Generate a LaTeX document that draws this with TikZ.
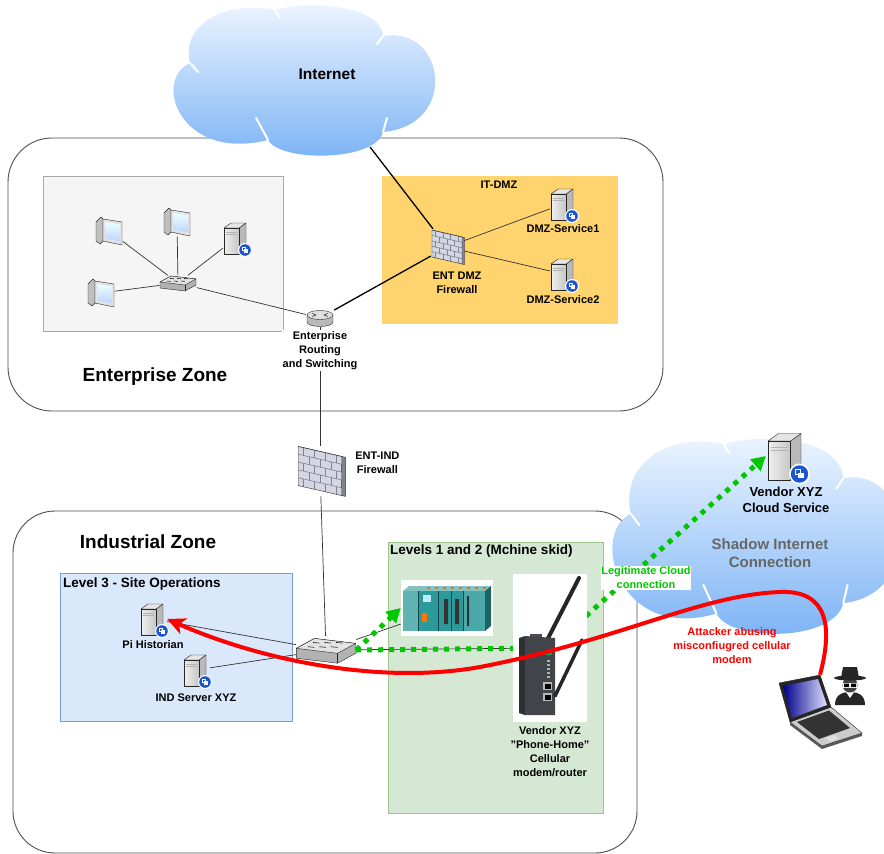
\documentclass[tikz,border=0pt]{standalone}
\usepackage{fontspec}
\setmainfont{Liberation Sans}
\usepackage{tikz}
\usetikzlibrary{positioning,arrows.meta}
\definecolor{zoneline}{HTML}{4F4F4F}
\definecolor{cloudhi}{HTML}{EEF6FF}
\definecolor{cloudlo}{HTML}{7AB2F5}
\definecolor{lanfill}{HTML}{F5F5F5}
\definecolor{lanline}{HTML}{A8A8A8}
\definecolor{dmzfill}{HTML}{FFD46E}
\definecolor{lvlthree}{HTML}{DAE8FC}
\definecolor{lvlthreeline}{HTML}{7C9CCD}
\definecolor{lvltwo}{HTML}{D5E8D4}
\definecolor{lvltwoline}{HTML}{9CC78D}
\definecolor{legitgreen}{HTML}{00C800}
\definecolor{attackred}{HTML}{FF0000}
\definecolor{badgeblue}{HTML}{1C55D2}
\definecolor{brickface}{HTML}{D4D7E3}
\definecolor{brickline}{HTML}{7E8291}
\definecolor{plcteal}{HTML}{2C9A9B}
\definecolor{modemgray}{HTML}{41454A}

% cloud outline on the unit square (y grows downwards)
\newcommand{\cloudoutline}{(0.057,0.387) .. controls (0.019,0.113) and (0.208,-0.033) .. (0.377,0.033)
  .. controls (0.472,-0.02) and (0.774,-0.02) .. (0.785,0.207)
  .. controls (1.019,0.133) and (1.075,0.8) .. (0.785,0.847)
  .. controls (0.755,1.047) and (0.396,1.047) .. (0.351,0.9)
  .. controls (0.019,1.047) and (-0.087,0.5) .. (0.057,0.387) -- cycle}
% \netcloud{left}{top}{width}{height}
\newcommand{\netcloud}[4]{%
  \begin{scope}[shift={(#1,#2)}, x=#3pt, y=-#4pt]
    \shade[top color=cloudhi, bottom color=cloudlo] \cloudoutline;
    \foreach \ax/\ay/\bx/\by in {0.057/0.387/0.087/0.447, 0.377/0.033/0.394/0.08,
        0.785/0.207/0.762/0.26, 0.785/0.847/0.8/0.753, 0.351/0.9/0.306/0.753}
      \draw[white, line width=2pt, line cap=round] (\ax,\ay) -- (\bx,\by);
  \end{scope}}

\begin{document}
\begin{tikzpicture}[x=1pt, y=-1pt,
    lbl/.style={font=\bfseries\fontsize{11}{14}\selectfont, align=center, inner sep=1pt},
    ztitle/.style={font=\bfseries\fontsize{19}{23}\selectfont, inner sep=1pt},
    btitle/.style={font=\bfseries\fontsize{13.5}{16}\selectfont, anchor=west, inner sep=1pt},
    zone/.style={draw=zoneline, line width=0.9pt, rounded corners=44pt},
    dev/.style 2 args={inner sep=0pt, minimum width=#1, minimum height=#2},
    link/.style={draw=black!80, line width=0.7pt},
    uplink/.style={draw=black, line width=1.3pt},
    legit/.style={draw=legitgreen, line width=5pt, dash pattern=on 5pt off 6pt},
    attack/.style={draw=attackred, line width=4pt},
    outl/.style={draw=gray!30!black, line width=0.4pt, line join=round},
    pc/.pic={
      \fill[gray!50, outl] (-13,-9) -- (-8,-14) -- (-6,-12) -- (-6,10) -- (-9,13) -- (-13,10) -- cycle;
      \fill[gray!22, outl] (-6,-12) -- (13,-9) -- (13,14) -- (-6,10) -- cycle;
      \shade[top color=cyan!8!white, bottom color=cyan!30!blue!25] (-4,-9) -- (11,-6.5) -- (11,10.5) -- (-4,7.5) -- cycle;
    },
    server/.pic={
      \fill[gray!55, outl] (3,-10) -- (10,-15) -- (10,12) -- (3,16) -- cycle;
      \fill[gray!20, outl] (-12,-10) -- (-5,-15) -- (10,-15) -- (3,-10) -- cycle;
      \shade[left color=gray!12, right color=gray!45] (-12,-10) rectangle (3,16);
      \draw[outl] (-12,-10) rectangle (3,16);
      \draw[gray!60, line width=0.6pt] (-10,-6) -- (1,-6) (-10,-3.5) -- (1,-3.5);
      \fill[white] (9,12) circle (7);
      \fill[badgeblue] (9,12) circle (5.8);
      \draw[white, line width=0.7pt] (5.9,9.2) rectangle (9.4,12.2);
      \fill[white] (8,11) rectangle (12,14.6);
    },
    switch/.pic={
      \fill[gray!60, outl] (-18,-1) -- (-7,-7) -- (18,-4) -- (18,2) -- (7,8) -- (-18,5) -- cycle;
      \fill[gray!22, outl] (-18,-1) -- (-7,-7) -- (18,-4) -- (7,2) -- cycle;
      \draw[outl] (7,2) -- (7,8);
      \foreach \sx in {-8,-1,6}
        \draw[gray!25!black, line width=0.6pt] (\sx-3,-2) -- (\sx+1,-1.6) (\sx,-4.6) -- (\sx+4,-4.2);
    },
    router/.pic={
      \fill[gray!55] (-13,-3) rectangle (13,4);
      \fill[gray!55] (0,4) ellipse [x radius=13, y radius=4.5];
      \draw[outl] (-13,-3) -- (-13,4) arc[start angle=180, end angle=0, x radius=13, y radius=4.5] -- (13,-3);
      \fill[gray!25, outl] (0,-3) ellipse [x radius=13, y radius=4.5];
      \draw[gray!20!black, line width=0.5pt] (-8,-4.5) -- (-4,-3) -- (-8,-1.5) (8,-4.5) -- (4,-3) -- (8,-1.5);
    },
    firewall/.pic={
      \begin{scope}[yslant=-0.23]
        \fill[brickline] (15,-13.5) rectangle (17.5,13.5);
        \fill[brickface] (-15,-13.5) rectangle (15,13.5);
        \foreach \row/\off in {0/0,1/3.75,2/0,3/3.75,4/0} {
          \draw[brickline, line width=0.6pt] (-15,{-13.5+5.4*\row}) -- (15,{-13.5+5.4*\row});
          \foreach \col in {0,...,3}
            \draw[brickline, line width=0.6pt] ({-11.25+\off+7.5*\col},{-13.5+5.4*\row}) -- ++(0,5.4);
        }
        \draw[outl] (-15,-13.5) rectangle (15,13.5);
        \draw[outl] (15,-13.5) -- (17.5,-13.5) -- (17.5,13.5) -- (15,13.5);
      \end{scope}
    },
    plc/.pic={
      \fill[white] (-46,-28) rectangle (46,28);
      \fill[plcteal!60!white] (-44,-17) -- (-38,-22) -- (44,-22) -- (38,-17) -- cycle;
      \fill[plcteal!65!black] (38,-17) -- (44,-22) -- (44,18) -- (38,23) -- cycle;
      \fill[plcteal] (-44,-17) rectangle (38,23);
      \fill[plcteal!75!white] (-44,-17) rectangle (-29,23);
      \fill[plcteal!85!white] (16,-17) rectangle (38,23);
      \foreach \mx in {-29,-9,4,16}
        \draw[plcteal!45!black, line width=0.5pt] (\mx,-17) -- (\mx,23);
      \fill[black!80] (-3,-9) rectangle (1,16) (8,-9) rectangle (12,16) (20,-12) rectangle (22,18);
      \fill[orange!90!red] (-25,5) rectangle (-20,14);
      \fill[cyan!25] (-24,-13) rectangle (-16,-6);
      \foreach \ox in {-20,-12,...,36}
        \fill[orange!85!red] (\ox,-21.5) rectangle ++(3,2);
    },
    modem/.pic={
      \fill[white] (-37,-74) rectangle (37,74);
      \draw[black!85, line width=4pt, line cap=round] (-8,2) -- (29,-70);
      \fill[modemgray!70!black] (-31,-10) -- (-25,-12) -- (-25,67) -- (-31,65) -- cycle;
      \fill[modemgray] (-25,-12) -- (5,-10) -- (5,67) -- (-25,67) -- cycle;
      \fill[black!70] (-20,-14) rectangle (-8,-11);
      \fill[teal!70!green] (-5,2) rectangle (2,7);
      \foreach \ly in {12,16,...,28} \fill[gray!60] (-3,\ly) rectangle ++(3,1.5);
      \foreach \py in {34,45} {
        \fill[gray!55] (-7,\py) rectangle ++(9,8);
        \fill[black] (-5.5,\py+1.5) rectangle ++(6,5);
      }
      \draw[black!85, line width=3.5pt, line cap=round] (5,48) -- (32,-8);
    },
    laptop/.pic={
      \fill[gray!70!black] (-30,12) -- (2,36) -- (42,23) -- (42,26) -- (2,39) -- (-30,15) -- cycle;
      \fill[gray!40, outl] (-30,12) -- (11,-3) -- (42,23) -- (2,36) -- cycle;
      \fill[black!80] (-23,12) -- (9,0.5) -- (30,18) -- (-1,29) -- cycle;
      \fill[gray!25] (6,28) -- (14,25) -- (18,28.5) -- (10,31.5) -- cycle;
      \fill[black!85, outl] (-41,-27) -- (0,-35) -- (11,-3) -- (-30,12) -- cycle;
      \shade[left color=blue!55!black, right color=blue!12!white] (-37,-24) -- (-2,-31) -- (7,-5) -- (-28,8) -- cycle;
    },
    spy/.pic={
      \fill[black!85] (-15,19) .. controls (-15,9) and (-8,6) .. (0,6) .. controls (8,6) and (15,9) .. (15,19) -- cycle;
      \fill[white] (-4,6) -- (0,12) -- (4,6) -- cycle;
      \fill[black!75] (0,-1) circle (7.5);
      \fill[white] (-7,-3) rectangle (7,1.5);
      \fill[black] (-6,-2.5) rectangle (-1,1) (1,-2.5) rectangle (6,1);
      \fill[black!85] (-9,-8) -- (-7,-19) -- (7,-19) -- (9,-8) -- cycle;
      \fill[black!85] (0,-8) ellipse [x radius=16, y radius=2.5];
    }]

  \useasboundingbox (0,0) rectangle (884,854);
  \fill[white] (0,0) rectangle (884,854);

  % ---- zones and groups
  \draw[zone] (8,138) rectangle (663,411);
  \draw[zone, rounded corners=42pt] (13,511) rectangle (637,853);
  \draw[draw=lanline, fill=lanfill, line width=0.8pt] (43,176) rectangle (283,331);
  \fill[dmzfill] (382,176) rectangle (618,324);
  \draw[draw=lvlthreeline, fill=lvlthree] (60,573) rectangle (292,721);
  \draw[draw=lvltwoline, fill=lvltwo] (388,542) rectangle (603,813);

  % ---- clouds
  \netcloud{175}{5}{265}{150}
  \netcloud{614}{438}{292}{195}

  % ---- device boxes
  \node[font=\bfseries\fontsize{15.5}{18}\selectfont] (inet) at (327,74) {Internet};
  \coordinate (inetlink) at (370,147);
  \foreach \n/\x/\y in {pc1/109/231, pc2/177/222, pc3/101/293}
    \node[dev={27}{29}] (\n) at (\x,\y) {};
  \node[dev={26}{33}] (esrv) at (236,238) {};
  \node[dev={37}{15}] (esw) at (178,283) {};
  \node[dev={28}{18}] (rtr) at (320,318) {};
  \node[dev={32}{36}] (fw1) at (447,247) {};
  \node[dev={26}{32}] (dmz1) at (563,204) {};
  \node[dev={26}{32}] (dmz2) at (563,274) {};
  \node[dev={46}{50}] (fw2) at (320,471) {};
  \node[dev={60}{28}] (isw) at (326,650) {};
  \node[dev={28}{34}] (pihist) at (153,619) {};
  \node[dev={28}{34}] (indsrv) at (196,670) {};
  \node[dev={92}{56}] (plc) at (447,608) {};
  \node[dev={74}{148}] (modem) at (550,648) {};
  \node[dev={40}{56}] (vendor) at (786,456) {};
  \node[dev={84}{70}] (laptop) at (820,710) {};
  \node[dev={34}{38}] (spy) at (850,686) {};

  % ---- links
  \foreach \n in {pc1,pc2,pc3,esrv} \draw[link] (esw) -- (\n);
  \draw[link] (esw) -- (rtr);
  \draw[uplink] (rtr) -- (fw1);
  \draw[uplink] (inetlink) -- (fw1);
  \draw[link] (fw1) -- (dmz1);
  \draw[link] (fw1) -- (dmz2);
  \draw[link] (rtr) -- (fw2);
  \draw[link] (fw2) -- (isw);
  \foreach \n in {pihist,indsrv,plc,modem} \draw[link] (isw) -- (\n);

  % ---- vendor traffic
  \draw[legit, -{Triangle[length=14pt, width=15pt]}] (isw.east) -- (plc.west);
  \draw[legit, -{Triangle[length=14pt, width=15pt]}] (isw.east) -- (modem.center) -- (vendor.west);

  % ---- icons
  \foreach \n in {pc1,pc2,pc3} \pic at (\n) {pc};
  \foreach \n in {esrv,dmz1,dmz2,pihist,indsrv} \pic at (\n) {server};
  \pic[scale=1.5] at (vendor) {server};
  \pic at (esw) {switch};
  \pic[scale=1.65] at (isw) {switch};
  \pic at (rtr) {router};
  \pic at (fw1) {firewall};
  \pic[scale=1.45] at (fw2) {firewall};
  \pic at (plc) {plc};
  \pic at (modem) {modem};
  \pic at (laptop) {laptop};
  \pic at (spy) {spy};

  % ---- labels
  \node[ztitle] (entzone) at (155,377) {Enterprise Zone};
  \node[ztitle] (indzone) at (148,542) {Industrial Zone};
  \node[btitle] (l3lbl) at (62,584) {Level 3 - Site Operations};
  \node[btitle] (l12lbl) at (389,551) {Levels 1 and 2 (Mchine skid)};
  \node[lbl] (dmzlbl) at (499,185) {IT-DMZ};
  \node[lbl, fill=white, below=3pt of rtr] (rtrlbl) {Enterprise\\Routing\\and Switching};
  \node[lbl, below=6pt of fw1, xshift=10pt] (fw1lbl) {ENT DMZ\\Firewall};
  \node[lbl, below=3pt of dmz1] (dmz1lbl) {DMZ-Service1};
  \node[lbl, below=4pt of dmz2] (dmz2lbl) {DMZ-Service2};
  \node[lbl, right=11pt of fw2, yshift=8pt] (fw2lbl) {ENT-IND\\Firewall};
  \node[lbl, below=3pt of pihist] (pilbl) {Pi Historian};
  \node[lbl, below=5pt of indsrv] (indlbl) {IND Server XYZ};
  \node[lbl, below=3pt of modem] (modemlbl) {Vendor XYZ\\\symbol{34}Phone-Home\symbol{34}\\Cellular\\modem/router};
  \node[font=\bfseries\fontsize{13}{16}\selectfont, align=center, inner sep=1pt, below=2pt of vendor] (vendorlbl) {Vendor XYZ\\Cloud Service};
  \node[font=\bfseries\fontsize{15}{18}\selectfont, align=center, text=black!60] (shadowlbl) at (770,553) {Shadow Internet\\Connection};
  \node[lbl, text=legitgreen, fill=white, inner sep=0.5pt] (legitlbl) at (646,578) {Legitimate Cloud\\connection};
  \node[lbl, text=attackred] (atklbl) at (732,646) {Attacker abusing\\misconfiugred cellular\\modem};

  % ---- attack path
  \coordinate (atk1) at (780,592);
  \coordinate (atk2) at (480,667);
  \draw[attack, -{Stealth[length=18pt, width=17pt, inset=5pt]}] (laptop.north)
      .. controls (832,630) and (830,590) .. (atk1)
      .. controls (700,595) and (620,640) .. (atk2)
      .. controls (380,685) and (260,660) .. (pihist.east);
\end{tikzpicture}
\end{document}
